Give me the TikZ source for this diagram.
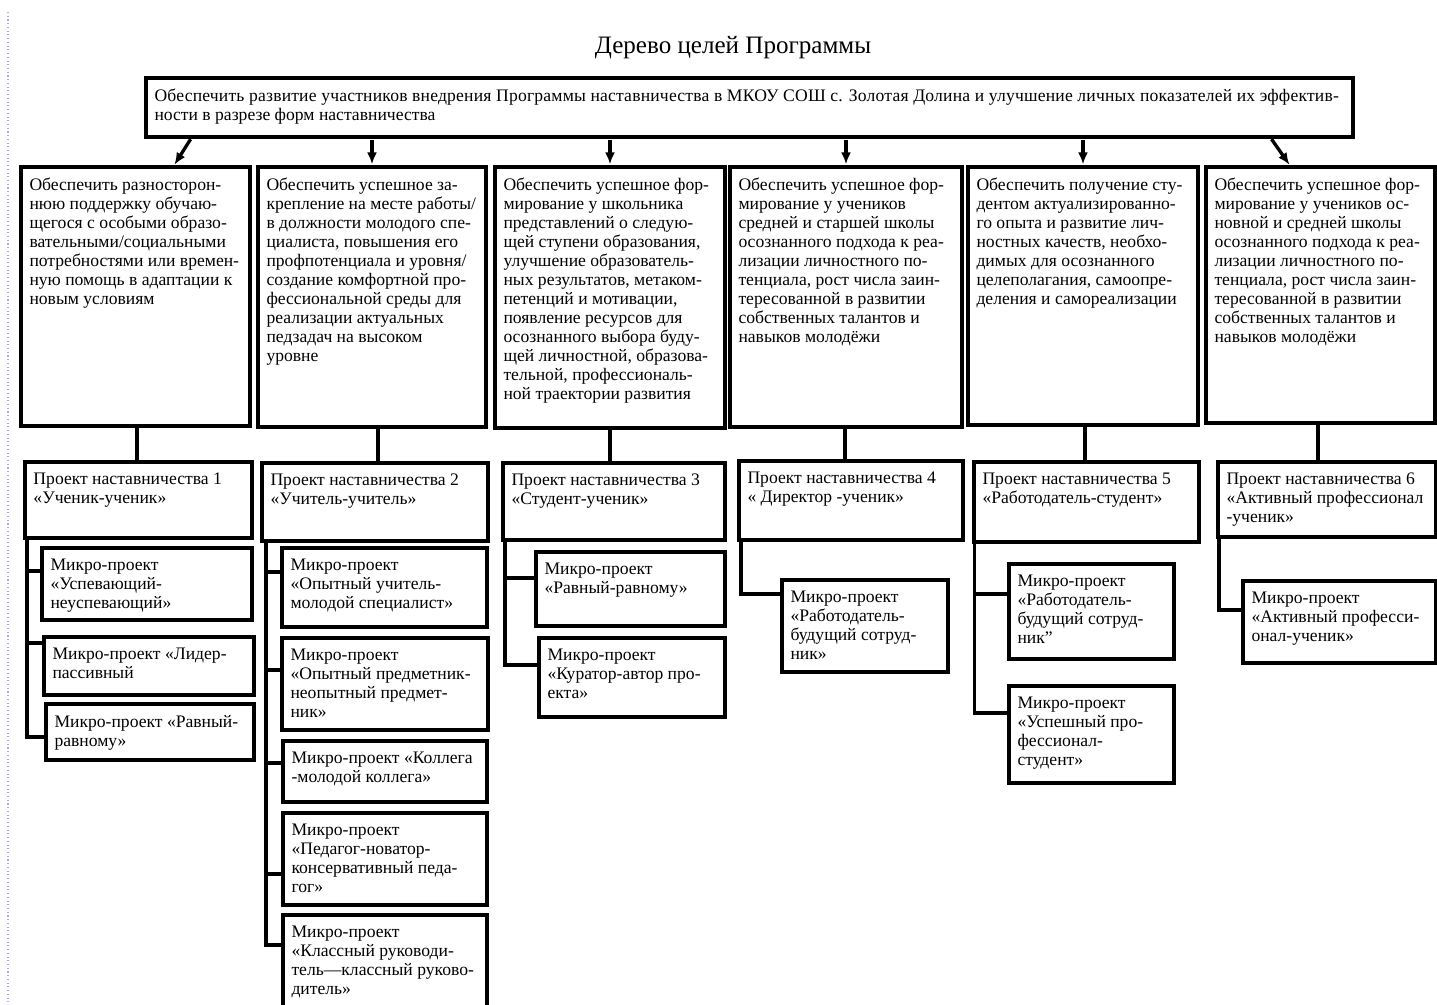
\documentclass[tikz,border=0pt]{standalone}
\usepackage{fontspec}
\setmainfont{Liberation Serif}
\usetikzlibrary{arrows.meta,calc}
\newcommand\bt{\fontsize{13.2pt}{14.25pt}\selectfont}
\newcommand\bx[7]{%
  \node[boxst, line width=#6, minimum width={(#4-#2)*0.75pt}, minimum height={(#5-#3)*0.75pt}] (#1) at ({(#2+#4)/2},{(#3+#5)/2}) {};
  \node[txt] (#1t) at ($(#1.north west)+(8.5,11)$) {#7};}
\newcommand\br[3]{%
  \coordinate (#1b) at ($(#1.west)+(0,#2)$);
  \draw[conn] (#1b) -- (#1b -| #3);}
\begin{document}
\begin{tikzpicture}[x=0.75pt,y=-0.75pt,
  boxst/.style={draw, inner sep=0pt, outer sep=0pt},
  txt/.style={font=\bt, align=left, inner sep=0pt, outer sep=0pt, anchor=north west},
  conn/.style={line width=2.6pt},
  arr/.style={line width=2.5pt, -{Latex[length=9pt,width=7.5pt]}, shorten <=2pt, shorten >=2pt}]
\clip (0,0) rectangle (1437,1005);
\fill[white] (0,0) rectangle (1437,1005);
\draw[blue!35, dotted, line width=0.8pt] (8,12) -- (8,1005);

\node[font=\fontsize{18.8pt}{20pt}\selectfont] (title) at (733,48) {Дерево целей Программы};

\bx{top}{146}{78}{1353}{137}{3.4pt}{\addfontfeature{LetterSpace=1.1}Обеспечить развитие участников внедрения Программы наставничества в МКОУ СОШ с. Золотая Долина и улучшение личных показателей их эффектив-\\ности в разрезе форм наставничества}

\bx{g1}{21}{167}{250}{426}{3.5pt}{Обеспечить разносторон-\\нюю поддержку обучаю-\\щегося с особыми образо-\\вательными/социальными\\потребностями или времен-\\ную помощь в адаптации к\\новым условиям}
\bx{g2}{258}{167}{486}{427}{3.5pt}{Обеспечить успешное за-\\крепление на месте работы/\\в должности молодого спе-\\циалиста, повышения его\\профпотенциала и уровня/\\создание комфортной про-\\фессиональной среды для\\реализации актуальных\\педзадач на высоком\\уровне}
\bx{g3}{495}{167}{725}{428}{3.5pt}{Обеспечить успешное фор-\\мирование у школьника\\представлений о следую-\\щей ступени образования,\\улучшение образователь-\\ных результатов, метаком-\\петенций и мотивации,\\появление ресурсов для\\осознанного выбора буду-\\щей личностной, образова-\\тельной, профессиональ-\\ной траектории развития}
\bx{g4}{730}{167}{962}{427}{3.5pt}{Обеспечить успешное фор-\\мирование у учеников\\средней и старшей школы\\осознанного подхода к реа-\\лизации личностного по-\\тенциала, рост числа заин-\\тересованной в развитии\\собственных талантов и\\навыков молодёжи}
\bx{g5}{968}{167}{1198}{425}{3.5pt}{Обеспечить получение сту-\\дентом актуализированно-\\го опыта и развитие лич-\\ностных качеств, необхо-\\димых для осознанного\\целеполагания, самоопре-\\деления и самореализации}
\bx{g6}{1206}{167}{1435}{423}{3.5pt}{Обеспечить успешное фор-\\мирование у учеников ос-\\новной и средней школы\\осознанного подхода к реа-\\лизации личностного по-\\тенциала, рост числа заин-\\тересованной в развитии\\собственных талантов и\\навыков молодёжи}

\bx{p1}{25}{462}{252}{538}{3.5pt}{Проект наставничества 1\\«Ученик-ученик»}
\bx{p2}{262}{463}{488}{541}{3.5pt}{Проект наставничества 2\\«Учитель-учитель»}
\bx{p3}{503}{463}{725}{540}{3.5pt}{Проект наставничества 3\\«Студент-ученик»}
\bx{p4}{739}{461}{963}{540}{3.5pt}{Проект наставничества 4\\« Директор -ученик»}
\bx{p5}{974}{462}{1199}{542}{3.5pt}{Проект наставничества 5\\«Работодатель-студент»}
\bx{p6}{1218}{462}{1436}{537}{3.5pt}{Проект наставничества 6\\«Активный профессионал\\-ученик»}

\bx{m1a}{42}{548}{252}{620}{3.1pt}{Микро-проект\\«Успевающий-\\неуспевающий»}
\bx{m1b}{44}{637}{254}{695}{3.1pt}{Микро-проект «Лидер-\\пассивный}
\bx{m1c}{46}{704}{254}{760}{3.1pt}{Микро-проект «Равный-\\равному»}
\bx{m2a}{282}{548}{487}{627}{3.1pt}{Микро-проект\\«Опытный учитель-\\молодой специалист»}
\bx{m2b}{282}{638}{488}{730}{3.1pt}{Микро-проект\\«Опытный предметник-\\неопытный предмет-\\ник»}
\bx{m2c}{283}{741}{487}{802}{3.1pt}{Микро-проект «Коллега\\-молодой коллега»}
\bx{m2d}{283}{813}{487}{905}{3.1pt}{Микро-проект\\«Педагог-новатор-\\консервативный педа-\\гог»}
\bx{m2e}{283}{915}{487}{1015}{3.1pt}{Микро-проект\\«Классный руководи-\\тель—классный руково-\\дитель»}
\bx{m3a}{536}{552}{725}{626}{3.1pt}{Микро-проект\\«Равный-равному»}
\bx{m3b}{539}{638}{725}{717}{3.1pt}{Микро-проект\\«Куратор-автор про-\\екта»}
\bx{m4a}{782}{580}{948}{672}{2.8pt}{Микро-проект\\«Работодатель-\\будущий сотруд-\\ник»}
\bx{m5a}{1009}{564}{1174}{659}{2.8pt}{Микро-проект\\«Работодатель-\\будущий сотруд-\\ник”}
\bx{m5b}{1009}{686}{1174}{783}{2.8pt}{Микро-проект\\«Успешный про-\\фессионал-\\студент»}
\bx{m6a}{1243}{581}{1436}{663}{3.1pt}{Микро-проект\\«Активный професси-\\онал-ученик»}

% arrows from the top box
\coordinate (t1) at ($(top.south west)+(46,0)$);
\coordinate (e1) at ($(g1.north west)+(152,0)$);
\draw[arr] (t1) -- (e1);
\foreach \i in {2,3,4,5}{\draw[arr] (top.south -| g\i.north) -- (g\i.north);}
\coordinate (t6) at ($(top.south east)+(-83,0)$);
\coordinate (e6) at ($(g6.north west)+(85,0)$);
\draw[arr] (t6) -- (e6);

% goal -> project
\coordinate (c1) at ($(g1.south)+(1.5,0)$);
\coordinate (c2) at ($(g2.south)+(6,0)$);
\coordinate (c3) at ($(g3.south)+(0,0)$);
\coordinate (c4) at ($(g4.south)+(-1,0)$);
\coordinate (c5) at ($(g5.south)+(2,0)$);
\coordinate (c6) at ($(g6.south)+(-2.5,0)$);
\foreach \i in {1,...,6}{\draw[conn] (c\i) -- (c\i |- p\i.north);}

% spines
\coordinate (s1) at ($(p1.south west)+(2,0)$);
\coordinate (s2) at ($(p2.south west)+(4,0)$);
\coordinate (s3) at ($(p3.south west)+(2,0)$);
\coordinate (s4) at ($(p4.south west)+(2,0)$);
\coordinate (s5) at ($(p5.south west)+(0.5,0)$);
\coordinate (s6) at ($(p6.south west)+(1,0)$);

\br{m1a}{-13}{s1}\br{m1b}{-23}{s1}\br{m1c}{5}{s1}
\draw[conn] (s1) |- (m1cb);
\br{m2a}{-15.5}{s2}\br{m2b}{-14}{s2}\br{m2c}{-8.5}{s2}\br{m2d}{15}{s2}\br{m2e}{-20}{s2}
\draw[conn] (s2) |- (m2eb);
\br{m3a}{-11}{s3}\br{m3b}{-12.5}{s3}
\draw[conn] (s3) |- (m3bb);
\br{m4a}{-32}{s4}
\draw[conn] (s4) |- (m4ab);
\br{m5a}{-17.5}{s5}\br{m5b}{-21.5}{s5}
\draw[conn] (s5) |- (m5bb);
\br{m6a}{-12}{s6}
\draw[conn] (s6) |- (m6ab);
\end{tikzpicture}
\end{document}
